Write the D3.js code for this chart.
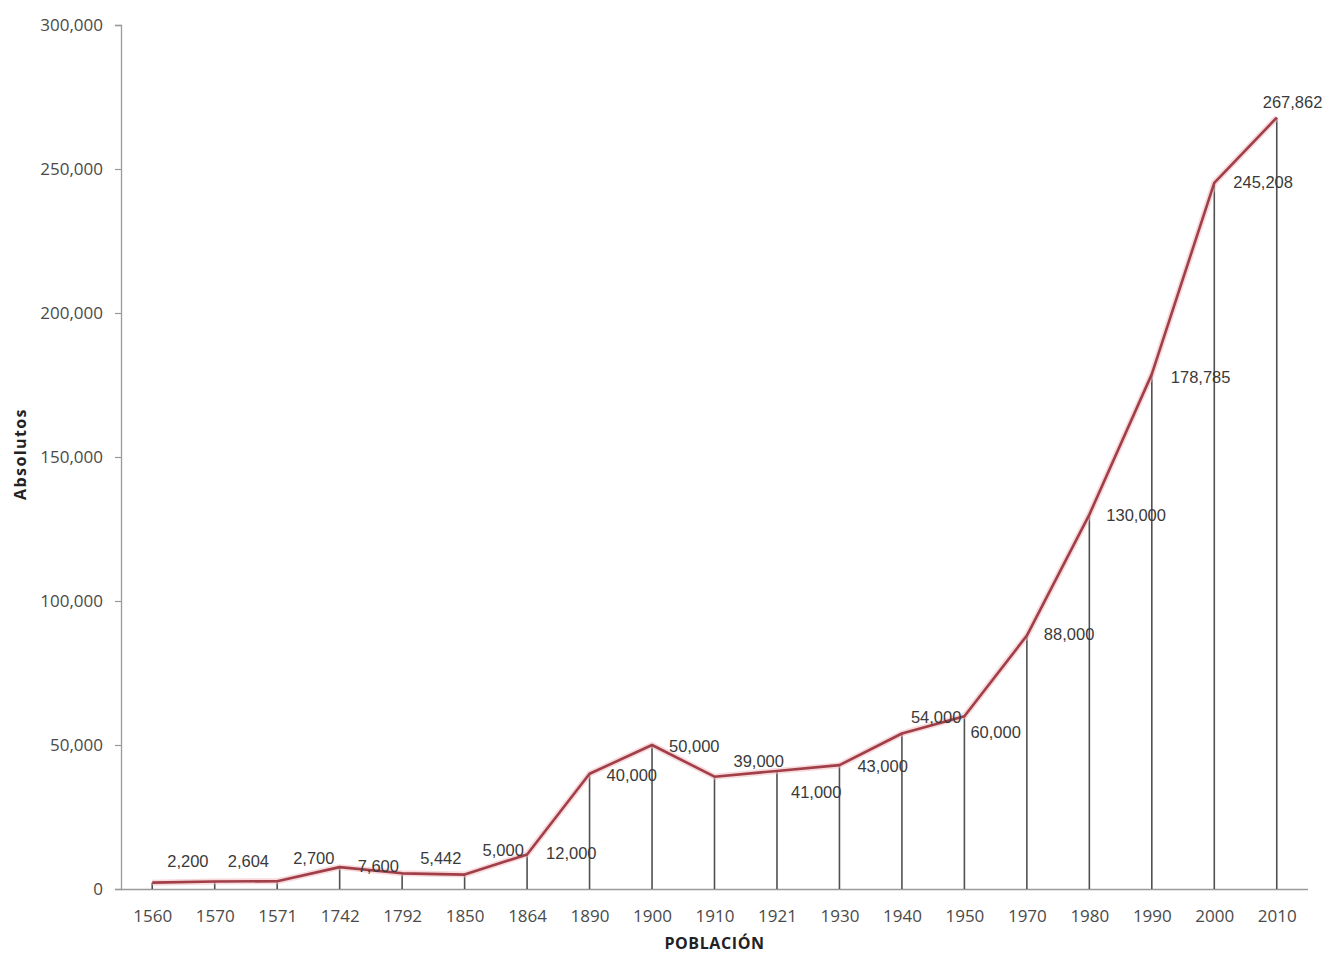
<!DOCTYPE html>
<html>
<head>
<meta charset="utf-8">
<script src="https://cdn.jsdelivr.net/npm/d3@7"></script>
<style>
  html, body { margin: 0; padding: 0; background: #fff; }
  svg { display: block; }
</style>
</head>
<body>
<svg id="chart" width="1325" height="953"></svg>
<script>
// Census years (category axis)
const years = ["1560","1570","1571","1742","1792","1850","1864","1890","1900","1910",
               "1921","1930","1940","1950","1970","1980","1990","2000","2010"];

// Population, absolute numbers
const population = [2200, 2604, 2700, 7600, 5442, 5000, 12000, 40000, 50000, 39000,
                    41000, 43000, 54000, 60000, 88000, 130000, 178785, 245208, 267862];

// Value-axis ticks
const yTicks = [0, 50000, 100000, 150000, 200000, 250000, 300000];

// Placement of each value label relative to its point: [dx to left edge, dy to middle]
const labelOffsets = [
  [15, -21], [13, -20], [16, -23], [18, -1], [18, -15], [18, -24], [19, -1],
  [17, 1], [17, 1], [19, -15], [14, 21], [18, 1], [9, -16], [6, 16],
  [17, -1], [17, 1], [19, 3], [19, -1], [-14, -15]
];

const svg = d3.select("#chart");
const plot = { left: 121, right: 1308, top: 25, bottom: 889 };

const x = d3.scalePoint()
  .domain(years)
  .range([plot.left, plot.right])
  .padding(0.5);

const y = d3.scaleLinear()
  .domain([0, 300000])
  .range([plot.bottom, plot.top]);

const fmt = d3.format(",");
const axisFont = "'Open Sans', 'Noto Sans', sans-serif";
const labelFont = "'Liberation Sans', Arial, sans-serif";

// Value axis
const yAxis = svg.append("g")
  .attr("transform", `translate(${plot.left},0)`)
  .call(d3.axisLeft(y).tickValues(yTicks).tickFormat(fmt).tickSizeOuter(0).tickSize(6).tickPadding(12));
yAxis.select(".domain").attr("stroke", "#9a9a9a").attr("stroke-width", 1.3);
yAxis.selectAll(".tick line").attr("stroke", "#9a9a9a").attr("stroke-width", 1.2);
yAxis.selectAll(".tick text")
  .attr("fill", "#4a4a4a")
  .style("font-family", axisFont)
  .style("font-size", "17px");

// Category axis
const xAxis = svg.append("g")
  .attr("transform", `translate(0,${plot.bottom})`)
  .call(d3.axisBottom(x).tickSize(0).tickSizeOuter(0).tickPadding(21));
xAxis.select(".domain")
  .attr("d", `M${plot.left},0.5H${plot.right}`)
  .attr("stroke", "#9a9a9a").attr("stroke-width", 1.3);
xAxis.selectAll(".tick text")
  .attr("fill", "#4a4a4a")
  .style("font-family", axisFont)
  .style("font-size", "17px");

const data = years.map((yr, i) => ({ year: yr, value: population[i], off: labelOffsets[i] }));

// Drop lines from each point to the category axis
svg.append("g")
  .selectAll("line")
  .data(data)
  .join("line")
  .attr("x1", d => x(d.year))
  .attr("x2", d => x(d.year))
  .attr("y1", d => y(d.value))
  .attr("y2", y(0))
  .attr("stroke", "#505050")
  .attr("stroke-width", 1.6);

// Population line
const line = d3.line()
  .x(d => x(d.year))
  .y(d => y(d.value));

svg.append("path")
  .datum(data)
  .attr("fill", "none")
  .attr("stroke", "#f0b8bd")
  .attr("stroke-width", 6)
  .attr("stroke-opacity", 0.55)
  .attr("stroke-linejoin", "round")
  .attr("d", line);

svg.append("path")
  .datum(data)
  .attr("fill", "none")
  .attr("stroke", "#a03f48")
  .attr("stroke-width", 2.6)
  .attr("stroke-linejoin", "round")
  .attr("d", line);

// Value labels
svg.append("g")
  .selectAll("text")
  .data(data)
  .join("text")
  .attr("x", d => x(d.year) + d.off[0])
  .attr("y", d => y(d.value) + d.off[1])
  .attr("dy", "0.35em")
  .attr("fill", "#3a3a3a")
  .style("font-family", labelFont)
  .style("font-size", "16.5px")
  .text(d => fmt(d.value));

// Axis titles
svg.append("text")
  .attr("transform", "translate(26,454) rotate(-90)")
  .attr("text-anchor", "middle")
  .attr("fill", "#222")
  .style("font-family", axisFont)
  .style("font-weight", "bold")
  .style("font-size", "16px")
  .style("letter-spacing", "1.4px")
  .text("Absolutos");

svg.append("text")
  .attr("x", (plot.left + plot.right) / 2)
  .attr("y", 949)
  .attr("text-anchor", "middle")
  .attr("fill", "#222")
  .style("font-family", axisFont)
  .style("font-weight", "bold")
  .style("font-size", "16px")
  .style("letter-spacing", "0.6px")
  .text("POBLACIÓN");
</script>
</body>
</html>
